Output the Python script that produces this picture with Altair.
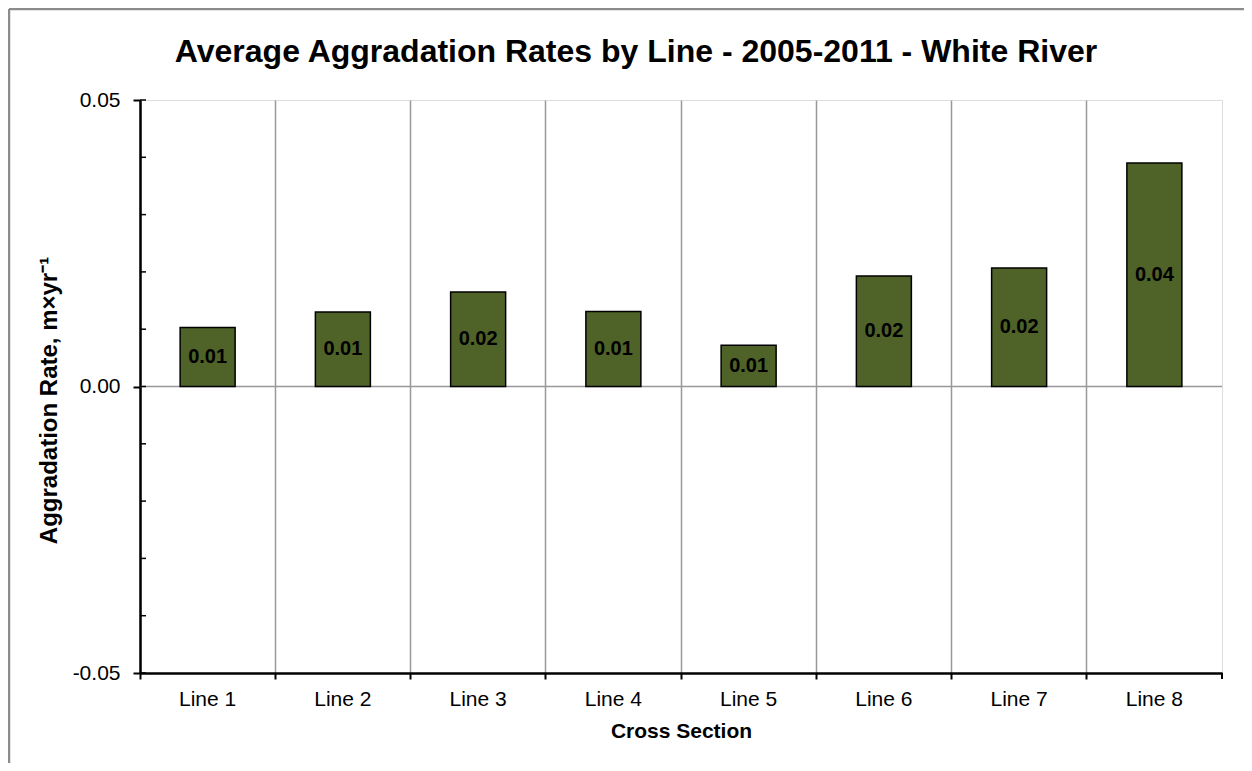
import altair as alt
import pandas as pd

categories = ["Line 1", "Line 2", "Line 3", "Line 4", "Line 5", "Line 6", "Line 7", "Line 8"]
rates = [0.0103, 0.0130, 0.0165, 0.0131, 0.0072, 0.0193, 0.0207, 0.0390]
labels = ["0.01", "0.01", "0.02", "0.01", "0.01", "0.02", "0.02", "0.04"]
y_minor_ticks = [-0.05, -0.04, -0.03, -0.02, -0.01, 0.0, 0.01, 0.02, 0.03, 0.04, 0.05]
y_major_ticks = [-0.05, 0.0, 0.05]
chart_title = "Average Aggradation Rates by Line - 2005-2011 - White River"

df = pd.DataFrame({"line": categories, "rate": rates, "label": labels})
ticks_df = pd.DataFrame({"t": y_minor_ticks})
zero_df = pd.DataFrame({"z": [0.0]})

W, H = 1082, 573
FONT = "Liberation Sans"

x_enc = alt.X(
    "line:N",
    sort=categories,
    scale=alt.Scale(paddingInner=0, paddingOuter=0),
    axis=alt.Axis(
        title="Cross Section",
        titleFont=FONT, titleFontSize=21, titleFontWeight="bold", titleColor="black",
        titlePadding=11,
        labelFont=FONT, labelFontSize=21, labelColor="black", labelAngle=0, labelPadding=9,
        bandPosition=0, tickSize=6, tickColor="black", tickWidth=2,
        domainColor="black", domainWidth=2.5,
        grid=True, gridColor="#999999", gridWidth=1.5,
    ),
)
y_scale = alt.Scale(domain=[-0.05, 0.05], nice=False, zero=False)

bars = alt.Chart(df).mark_bar(size=55, color="#4F6228", stroke="black", strokeWidth=1.5).encode(
    x=x_enc,
    y=alt.Y(
        "rate:Q",
        scale=y_scale,
        axis=alt.Axis(
            title="Aggradation Rate, m×yr⁻¹",
            titleFont=FONT, titleFontSize=24, titleFontWeight="bold", titleColor="black",
            titlePadding=11, titleY=300,
            values=y_major_ticks,
            labelExpr="datum.value < 0 ? '-' + format(-datum.value, '.2f') : format(datum.value, '.2f')",
            labelFont=FONT, labelFontSize=21, labelColor="black", labelPadding=13,
            tickSize=7, tickColor="black", tickWidth=2,
            domainColor="black", domainWidth=2.5, grid=False,
        ),
    ),
)

zero_rule = alt.Chart(zero_df).mark_rule(color="#999999", strokeWidth=1.5).encode(
    y=alt.Y("z:Q", scale=y_scale), x=alt.value(0), x2=alt.value(W)
)

minor = alt.Chart(ticks_df).mark_rule(color="black", strokeWidth=1.5).encode(
    y=alt.Y("t:Q", scale=y_scale), x=alt.value(0), x2=alt.value(6)
)

text = alt.Chart(df).transform_calculate(mid="datum.rate / 2").mark_text(
    font=FONT, fontSize=20, fontWeight="bold", color="black", baseline="middle", align="center"
).encode(
    x=alt.X("line:N", sort=categories),
    y=alt.Y("mid:Q", scale=y_scale),
    text="label:N",
)

right_tick = alt.Chart(zero_df).mark_rule(color="black", strokeWidth=2).encode(
    x=alt.value(W), y=alt.value(H), y2=alt.value(H + 6)
)

frame_left = alt.Chart(zero_df).mark_rule(color="#8c8c8c", strokeWidth=2.5).encode(
    x=alt.value(-131), y=alt.value(-91), y2=alt.value(680)
)
frame_top = alt.Chart(zero_df).mark_rule(color="#8c8c8c", strokeWidth=2.5).encode(
    y=alt.value(-91), x=alt.value(-131), x2=alt.value(W + 30)
)

title_text = alt.Chart(zero_df).mark_text(
    font=FONT, fontSize=32, fontWeight="bold", color="black",
    align="center", baseline="alphabetic",
).encode(
    x=alt.value(496), y=alt.value(-38), text=alt.value(chart_title)
)

chart = alt.layer(
    zero_rule, bars, text, minor, right_tick, frame_left, frame_top, title_text
).properties(
    width=W,
    height=H,
    autosize=alt.AutoSizeParams(type="none"),
    padding={"left": 132, "top": 92, "right": 22, "bottom": 90},
).configure_view(stroke="black", strokeWidth=2.5).configure(background="white")

chart.save("out.html", embed_options={"renderer": "svg", "actions": False})
